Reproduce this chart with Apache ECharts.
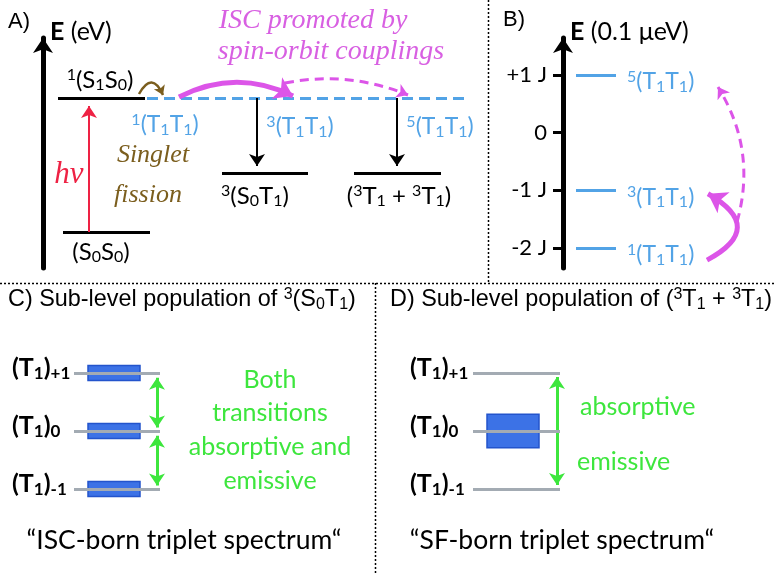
<!DOCTYPE html>
<html>
<head>
<meta charset="utf-8">
<script src="https://cdn.jsdelivr.net/npm/echarts@6/dist/echarts.min.js"></script>
<style>
html, body { margin: 0; padding: 0; background: #fff; }
#main { width: 774px; height: 574px; }
</style>
</head>
<body>
<div id="main"></div>
<script>
// ---------- panel A : energy levels (x0, x1 in diagram units, E in arb. eV)
var levelsA = [
  [1.5, 10.2, 1.70],   // 1(S1S0)
  [2.0, 10.7, 0.36],   // (S0S0)
  [17.9, 26.5, 0.95],  // 3(S0T1)
  [31.1, 39.8, 0.95]   // (3T1 + 3T1)
];
var ttLevelA = [10.4, 42.7, 1.70];  // dashed 1/3/5(T1T1) manifold
var hvArrow = [[4.6, 0.36], [4.6, 1.62]];
var decayArrows = [
  [[21.4, 1.70], [21.4, 1.02]],
  [[35.4, 1.70], [35.4, 1.02]]
];
var sfArrow = [[9.6, 1.74], [12.0, 1.73]];
var iscSolidA = [[13.6, 1.71], [25.0, 1.72]];
var iscDashA = [[24.2, 1.85], [36.5, 1.73]];
var textsA = [
  // x, y, text, style, align
  [-2.4, 2.46, 'A)', 'panel'],
  [5.7, 1.88, '^1(S_1S_0)', 'lvl'],
  [5.8, 0.16, '(S_0S_0)', 'lvl'],
  [21.2, 0.72, '^3(S_0T_1)', 'lvl'],
  [35.6, 0.72, '(^3T_1 + ^3T_1)', 'lvl'],
  [12.2, 1.43, '^1(T_1T_1)', 'tt'],
  [25.7, 1.41, '^3(T_1T_1)', 'tt'],
  [39.7, 1.41, '^5(T_1T_1)', 'tt'],
  [2.6, 0.93, 'hv', 'hv'],
  [11.0, 1.13, 'Singlet', 'sf'],
  [10.5, 0.73, 'fission', 'sf'],
  [27.0, 2.47, 'ISC promoted by', 'isc'],
  [28.8, 2.16, 'spin-orbit couplings', 'isc']
];

// ---------- panel B : spin sub-manifolds of TT (units of J)
var bTicks = [-2, -1, 0, 1];
var bTickLabels = ['-2 J', '-1 J', '0', '+1 J'];
var levelsB = [1, -1, -2];
var levelNamesB = ['^5(T_1T_1)', '^3(T_1T_1)', '^1(T_1T_1)'];
var levelXB = [1.3, 5.3];
var iscSolidB = [[14.4, -2.21], [14.5, -1.06]];
var iscDashB = [[17.4, -1.55], [15.5, 0.79]];

// ---------- panels C / D : triplet sub-level populations (m = +1, 0, -1)
var subLevels = [1, 0, -1];
var subNames = ['(T_1)_{+1}', '(T_1)_0', '(T_1)_{-1}'];
var popC = [0.13, 0.13, 0.13];   // half height of population box
var popD = [0, 0.29, 0];
var greenC = [
  [[15.7, 0.06], [15.7, 0.92]],
  [[15.7, -0.08], [15.7, -0.94]]
];
var greenD = [
  [[17.0, 0.0], [17.0, 0.93]],
  [[17.0, 0.0], [17.0, -0.93]]
];
var textsC = [
  [0.8, 2.26, 'C) Sub-level population of ^3(S_0T_1)', 'title', 'left'],
  [27.0, 0.88, 'Both', 'green'],
  [27.0, 0.31, 'transitions', 'green'],
  [27.0, -0.28, 'absorptive and', 'green'],
  [27.0, -0.86, 'emissive', 'green'],
  [18.4, -1.88, '\u201CISC-born triplet spectrum\u201C', 'quote']
];
var textsD = [
  [0.3, 2.26, 'D) Sub-level population of (^3T_1 + ^3T_1)', 'title', 'left'],
  [19.3, 0.41, 'absorptive', 'green', 'left'],
  [19.0, -0.53, 'emissive', 'green', 'left'],
  [17.5, -1.88, '\u201CSF-born triplet spectrum\u201C', 'quote']
];

var FONT = 'Lato, "Open Sans", sans-serif';
var ARIAL = '"Liberation Sans", Arial, sans-serif';
var SERIF = '"Liberation Serif", "DejaVu Serif", serif';
var BLUE = '#52a3e6';
var MAGENTA = '#dc55e8';
var GREEN = '#3de63d';
var GREY = '#a3abb3';

var styles = {
  panel: { size: 22, color: '#000', family: ARIAL },
  lvl: { size: 24, color: '#000', family: FONT },
  tt: { size: 23, color: BLUE, family: FONT },
  hv: { size: 31, color: '#ee2244', family: SERIF, style: 'italic' },
  sf: { size: 26, color: '#7b5e1e', family: SERIF, style: 'italic' },
  isc: { size: 28, color: '#d860e2', family: SERIF, style: 'italic' },
  title: { size: 23.4, color: '#000', family: ARIAL },
  sub: { size: 25, color: '#000', family: FONT, weight: 'bold' },
  green: { size: 25, color: GREEN, family: FONT },
  quote: { size: 26.5, color: '#000', family: FONT }
};

// '^x' -> superscript, '_x' -> subscript, braces for groups
function toRich(s) {
  var out = '', buf = '', i = 0;
  function flush() { if (buf) { out += '{n|' + buf + '}'; buf = ''; } }
  while (i < s.length) {
    var c = s[i];
    if (c === '^' || c === '_') {
      flush();
      var t;
      if (s[i + 1] === '{') {
        var j = s.indexOf('}', i);
        t = s.slice(i + 2, j);
        i = j + 1;
      } else {
        t = s[i + 1];
        i += 2;
      }
      out += '{' + (c === '^' ? 'sp' : 'sb') + '|' + t + '}';
    } else {
      buf += c;
      i++;
    }
  }
  flush();
  return out;
}

function richFor(st) {
  var small = Math.round(st.size * 0.68);
  var base = {
    fontSize: st.size, fontFamily: st.family, fill: st.color,
    fontWeight: st.weight || 'normal', fontStyle: st.style || 'normal'
  };
  var shift = Math.round(st.size * 0.42);
  return {
    n: Object.assign({}, base, { lineHeight: st.size + 4 }),
    sb: Object.assign({}, base, { fontSize: small, padding: [shift, 0, 0, 0] }),
    sp: Object.assign({}, base, { fontSize: small, padding: [0, 0, shift, 0] })
  };
}

function textSeries(list, gi) {
  return {
    type: 'custom',
    xAxisIndex: gi, yAxisIndex: gi,
    silent: true,
    z: 10,
    data: list.map(function (t) { return [t[0], t[1]]; }),
    renderItem: function (params, api) {
      var t = list[params.dataIndex];
      var st = styles[t[3]];
      var p = api.coord([api.value(0), api.value(1)]);
      return {
        type: 'text',
        x: p[0], y: p[1],
        style: {
          text: toRich(t[2]),
          rich: richFor(st),
          align: t[4] || 'center',
          verticalAlign: 'middle',
          fill: st.color,
          fontSize: st.size,
          fontFamily: st.family
        }
      };
    }
  };
}

function segs(list) {
  return list.map(function (c) { return { coords: c }; });
}

function linesSeries(gi, data, color, width, extra) {
  return Object.assign({
    type: 'lines',
    coordinateSystem: 'cartesian2d',
    xAxisIndex: gi, yAxisIndex: gi,
    silent: true,
    symbol: 'none',
    lineStyle: { color: color, width: width, opacity: 1 },
    data: data
  }, extra || {});
}

function levelSegs(x0, x1, ys) {
  return ys.map(function (y) { return { coords: [[x0, y], [x1, y]] }; });
}

function boxSeries(gi, xr, pops) {
  return {
    type: 'custom',
    xAxisIndex: gi, yAxisIndex: gi,
    silent: true,
    z: 2,
    data: subLevels.map(function (m, i) { return [xr[0], xr[1], m, pops[i]]; }),
    encode: { x: [0, 1], y: 2 },
    renderItem: function (params, api) {
      var h = api.value(3);
      if (!h) return null;
      var a = api.coord([api.value(0), api.value(2) + h]);
      var b = api.coord([api.value(1), api.value(2) - h]);
      return {
        type: 'rect',
        shape: { x: a[0], y: a[1], width: b[0] - a[0], height: b[1] - a[1] },
        style: { fill: '#3c72e6', stroke: '#2354cc', lineWidth: 1.5 }
      };
    }
  };
}

var chart = echarts.init(document.getElementById('main'));

var hidden = { show: false };
var axisName = {
  fontSize: 25, fontFamily: FONT, color: '#000', align: 'left', verticalAlign: 'middle',
  padding: [0, 0, 0, 7],
  rich: { b: { fontSize: 25, fontFamily: FONT, color: '#000', fontWeight: 'bold' } }
};
var arrowLine = { show: true, symbol: ['none', 'arrow'], symbolSize: [15, 15], lineStyle: { color: '#000', width: 5 } };

var option = {
  animation: false,
  backgroundColor: '#fff',
  grid: [
    { left: 43, top: 38, width: 440, height: 230 },
    { left: 563, top: 38, width: 200, height: 230 },
    { left: 0, top: 315, width: 387, height: 232 },
    { left: 387, top: 315, width: 387, height: 232 }
  ],
  xAxis: [
    { gridIndex: 0, type: 'value', min: 0, max: 44, show: false },
    { gridIndex: 1, type: 'value', min: 0, max: 20, show: false },
    { gridIndex: 2, type: 'value', min: 0, max: 38.7, show: false },
    { gridIndex: 3, type: 'value', min: 0, max: 38.7, show: false }
  ],
  yAxis: [
    {
      gridIndex: 0, type: 'value', min: 0, max: 2.3,
      axisLine: arrowLine,
      axisTick: hidden, axisLabel: hidden, splitLine: hidden,
      name: '{b|E} (eV)', nameLocation: 'end', nameGap: 6,
      nameTextStyle: axisName
    },
    {
      gridIndex: 1, type: 'value', min: -2.347, max: 1.641,
      axisLine: arrowLine,
      axisTick: { show: true, customValues: bTicks, length: 10, lineStyle: { color: '#000', width: 3 } },
      axisLabel: {
        show: true, customValues: bTicks, margin: 16,
        fontSize: 22, fontFamily: FONT, color: '#000',
        formatter: function (v) { return bTickLabels[bTicks.indexOf(v)]; }
      },
      splitLine: hidden,
      name: '{b|E} (0.1 \u03BCeV)', nameLocation: 'end', nameGap: 6,
      nameTextStyle: axisName
    },
    { gridIndex: 2, type: 'value', min: -2, max: 2, show: false },
    { gridIndex: 3, type: 'value', min: -2, max: 2, show: false }
  ],
  graphic: [
    { type: 'line', shape: { x1: 488.5, y1: 0, x2: 488.5, y2: 283 }, style: { stroke: '#000', lineWidth: 1.5, lineDash: [2, 2] } },
    { type: 'line', shape: { x1: 0, y1: 283.5, x2: 774, y2: 283.5 }, style: { stroke: '#000', lineWidth: 1.5, lineDash: [2, 2] } },
    { type: 'line', shape: { x1: 375.5, y1: 283, x2: 375.5, y2: 574 }, style: { stroke: '#000', lineWidth: 1.5, lineDash: [2, 2] } }
  ],
  series: [
    // panel A
    linesSeries(0, levelsA.map(function (l) { return { coords: [[l[0], l[2]], [l[1], l[2]]] }; }), '#000', 3),
    linesSeries(0, [{ coords: [[ttLevelA[0], ttLevelA[2]], [ttLevelA[1], ttLevelA[2]]] }], BLUE, 3,
      { lineStyle: { color: BLUE, width: 3, type: [11, 6], opacity: 1 } }),
    linesSeries(0, segs([hvArrow]), '#ee2244', 2, { symbol: ['none', 'arrow'], symbolSize: [0, 12] }),
    linesSeries(0, segs(decayArrows), '#000', 2, { symbol: ['none', 'arrow'], symbolSize: [0, 12] }),
    linesSeries(0, segs([sfArrow]), '#7b5e1e', 2.5,
      { symbol: ['none', 'arrow'], symbolSize: [0, 9], lineStyle: { color: '#7b5e1e', width: 2.5, curveness: 1.0, opacity: 1 } }),
    linesSeries(0, segs([iscSolidA]), MAGENTA, 5,
      { symbol: ['none', 'arrow'], symbolSize: [0, 18], lineStyle: { color: MAGENTA, width: 5, curveness: 0.25, opacity: 1 } }),
    linesSeries(0, segs([iscDashA]), MAGENTA, 3,
      { symbol: ['none', 'arrow'], symbolSize: [0, 11], lineStyle: { color: MAGENTA, width: 3, type: [9, 6], curveness: 0.15, opacity: 1 } }),
    textSeries(textsA, 0),

    // panel B
    linesSeries(1, levelSegs(levelXB[0], levelXB[1], levelsB), BLUE, 3),
    linesSeries(1, segs([iscSolidB]), MAGENTA, 5,
      { symbol: ['none', 'arrow'], symbolSize: [0, 18], lineStyle: { color: MAGENTA, width: 5, curveness: -0.9, opacity: 1 } }),
    linesSeries(1, segs([iscDashB]), MAGENTA, 3,
      { symbol: ['none', 'arrow'], symbolSize: [0, 11], lineStyle: { color: MAGENTA, width: 3, type: [9, 6], curveness: -0.22, opacity: 1 } }),
    textSeries(levelsB.map(function (y, i) { return [6.4, y - 0.12, levelNamesB[i], 'tt', 'left']; })
      .concat([[-4.9, 1.95, 'B)', 'panel']]), 1),

    // panel C
    boxSeries(2, [8.8, 14.0], popC),
    Object.assign(linesSeries(2, levelSegs(7.4, 16.0, subLevels), GREY, 3), { z: 3 }),
    linesSeries(2, segs(greenC), GREEN, 3, { symbol: ['arrow', 'arrow'], symbolSize: [12, 12] }),
    textSeries(subLevels.map(function (m, i) { return [1.2, m + 0.08, subNames[i], 'sub', 'left']; })
      .concat(textsC), 2),

    // panel D
    boxSeries(3, [10.0, 15.2], popD),
    Object.assign(linesSeries(3, levelSegs(8.6, 17.3, subLevels), GREY, 3), { z: 3 }),
    linesSeries(3, segs(greenD), GREEN, 3, { symbol: ['none', 'arrow'], symbolSize: [0, 12] }),
    textSeries(subLevels.map(function (m, i) { return [2.3, m + 0.08, subNames[i], 'sub', 'left']; })
      .concat(textsD), 3)
  ]
};

chart.setOption(option);
</script>
</body>
</html>
